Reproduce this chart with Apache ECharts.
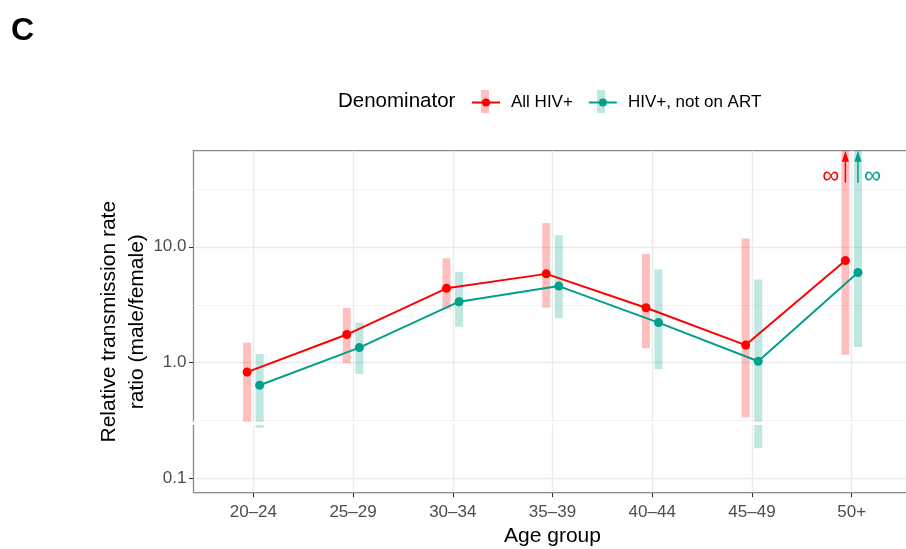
<!DOCTYPE html>
<html>
<head>
<meta charset="utf-8">
<script src="https://cdn.jsdelivr.net/npm/echarts@6/dist/echarts.min.js"></script>
<style>
  html, body { margin: 0; background: #fff; }
  #chart { width: 906px; height: 549px; }
</style>
</head>
<body>
<div id="chart"></div>
<script>
var ageGroups = ['20–24', '25–29', '30–34', '35–39', '40–44', '45–49', '50+'];

// denominator: all HIV+
var allEst  = [0.83, 1.75, 4.38, 5.84, 2.98, 1.42, 7.6];
var allLow  = [0.31, 0.99, 2.89, 2.98, 1.33, 0.337, 1.17];
var allHigh = [1.49, 2.97, 7.96, 16.0, 8.67, 11.8, Infinity];

// denominator: HIV+, not on ART
var offEst  = [0.64, 1.35, 3.36, 4.58, 2.22, 1.03, 6.0];
var offLow  = [0.275, 0.80, 2.04, 2.42, 0.88, 0.183, 1.37];
var offHigh = [1.19, 2.22, 6.08, 12.6, 6.37, 5.23, Infinity];

var yTicks = [0.1, 1, 10];
var yMinor = [0.316, 3.16, 31.6];

var RED = '#FF0000', TEAL = '#00A08A';
var FONT = 'Liberation Sans';
var DODGE = 0.063;

var chart = echarts.init(document.getElementById('chart'));

function ciRender(dodge, color, side) {
    return function (params, api) {
        var i = api.value(0), lo = api.value(1), hi = api.value(2);
        var open = !isFinite(hi);
        var top = params.coordSys.y;
        var pLo = api.coord([i + dodge, lo]);
        var yHi = open ? top : api.coord([i + dodge, hi])[1];
        var x = pLo[0];
        var kids = [{
            type: 'rect',
            shape: { x: x - 4, y: yHi, width: 8, height: pLo[1] - yHi },
            style: { fill: color, opacity: 0.25 }
        }];
        if (open) {
            // unbounded upper limit: arrow + infinity sign
            kids.push({
                type: 'line',
                shape: { x1: x, y1: top + 32, x2: x, y2: top + 6 },
                style: { stroke: color, lineWidth: 1.5 }
            });
            kids.push({
                type: 'polygon',
                shape: { points: [[x, top], [x - 3.5, top + 11], [x + 3.5, top + 11]] },
                style: { fill: color }
            });
            kids.push({
                type: 'text',
                x: x + side * 14.5, y: top + 26,
                style: {
                    text: '∞', fill: color, fontSize: 24, fontFamily: FONT,
                    align: 'center', verticalAlign: 'middle'
                }
            });
        }
        return { type: 'group', children: kids };
    };
}

var idx = ageGroups.map(function (g, i) { return i; });

var option = {
    animation: false,
    textStyle: { fontFamily: FONT },
    grid: {
        left: 193.5, top: 150.7, width: 718, height: 342,
        show: true, borderColor: '#888', borderWidth: 1.3,
        containLabel: false, outerBoundsMode: 'none'
    },
    legend: {
        left: 466, top: 89, z: 5,
        itemWidth: 28, itemHeight: 10, itemGap: 15,
        data: ['All HIV+', 'HIV+, not on ART'],
        textStyle: { fontSize: 17, color: '#000', fontFamily: FONT, padding: [0, 0, 0, 6] }
    },
    graphic: [
        { type: 'text', x: 11, y: 15,
          style: { text: 'C', font: 'bold 32px "Liberation Sans"', fill: '#000', verticalAlign: 'top' } },
        { type: 'text', x: 338, y: 101,
          style: { text: 'Denominator', fontSize: 20.5, fontFamily: FONT, fill: '#000', verticalAlign: 'middle' } },
        { type: 'rect', z: 0, shape: { x: 481, y: 90, width: 8, height: 23 }, style: { fill: RED, opacity: 0.25 } },
        { type: 'rect', z: 0, shape: { x: 597, y: 90, width: 8, height: 23 }, style: { fill: TEAL, opacity: 0.25 } },
        { type: 'rect', z: 100, shape: { x: 185, y: 421.7, width: 730, height: 3.4 }, style: { fill: '#fff' } }
    ],
    xAxis: {
        type: 'value', min: -0.6, max: 6.6,
        name: 'Age group', nameLocation: 'middle', nameGap: 33, nameMoveOverlap: false,
        nameTextStyle: { fontSize: 21, color: '#000', fontFamily: FONT },
        axisLine: { show: false, onZero: false },
        axisTick: { show: true, length: 4.5, customValues: idx, lineStyle: { color: '#333', width: 1.1 } },
        axisLabel: {
            customValues: idx, margin: 11, fontSize: 17, color: '#4D4D4D', fontFamily: FONT,
            formatter: function (v) { return ageGroups[Math.round(v)] || ''; }
        },
        splitLine: { show: true, lineStyle: { color: '#EBEBEB', width: 1.4 } }
    },
    yAxis: [{
        type: 'log', logBase: 10, min: 0.0757, max: 67.4,
        name: 'Relative transmission rate\nratio (male/female)',
        nameLocation: 'middle', nameGap: 42, nameMoveOverlap: false,
        nameTextStyle: { fontSize: 21, lineHeight: 28, color: '#000', fontFamily: FONT },
        axisLine: { show: false, onZero: false },
        axisTick: { show: true, length: 4.5, customValues: yTicks, lineStyle: { color: '#333', width: 1.1 } },
        axisLabel: {
            customValues: yTicks, margin: 7, fontSize: 17, color: '#4D4D4D', fontFamily: FONT,
            formatter: function (v) { return v.toFixed(1); }
        },
        splitLine: { show: true, lineStyle: { color: '#EBEBEB', width: 1.4 } }
    }, {
        type: 'log', logBase: 10, min: 0.0757, max: 67.4,
        axisLine: { show: false, onZero: false },
        axisTick: { show: false, customValues: yMinor },
        axisLabel: { show: false, customValues: yMinor },
        splitLine: { show: true, lineStyle: { color: '#F2F2F2', width: 0.9 } }
    }],
    series: [{
        name: 'All HIV+', type: 'line', z: 4,
        data: idx.map(function (i) { return [i - DODGE, allEst[i]]; }),
        symbol: 'circle', symbolSize: 9, showSymbol: true,
        itemStyle: { color: RED }, lineStyle: { color: RED, width: 2 }
    }, {
        name: 'HIV+, not on ART', type: 'line', z: 4,
        data: idx.map(function (i) { return [i + DODGE, offEst[i]]; }),
        symbol: 'circle', symbolSize: 9, showSymbol: true,
        itemStyle: { color: TEAL }, lineStyle: { color: TEAL, width: 2 }
    }, {
        name: 'All HIV+', type: 'custom', z: 2, color: RED,
        renderItem: ciRender(-DODGE, RED, -1),
        encode: { x: 0, y: [1, 2] },
        data: idx.map(function (i) { return [i, allLow[i], allHigh[i]]; })
    }, {
        name: 'HIV+, not on ART', type: 'custom', z: 2, color: TEAL,
        renderItem: ciRender(DODGE, TEAL, 1),
        encode: { x: 0, y: [1, 2] },
        data: idx.map(function (i) { return [i, offLow[i], offHigh[i]]; })
    }]
};

option && chart.setOption(option);

window.addEventListener('resize', function () {
    chart.resize();
});
</script>
</body>
</html>
